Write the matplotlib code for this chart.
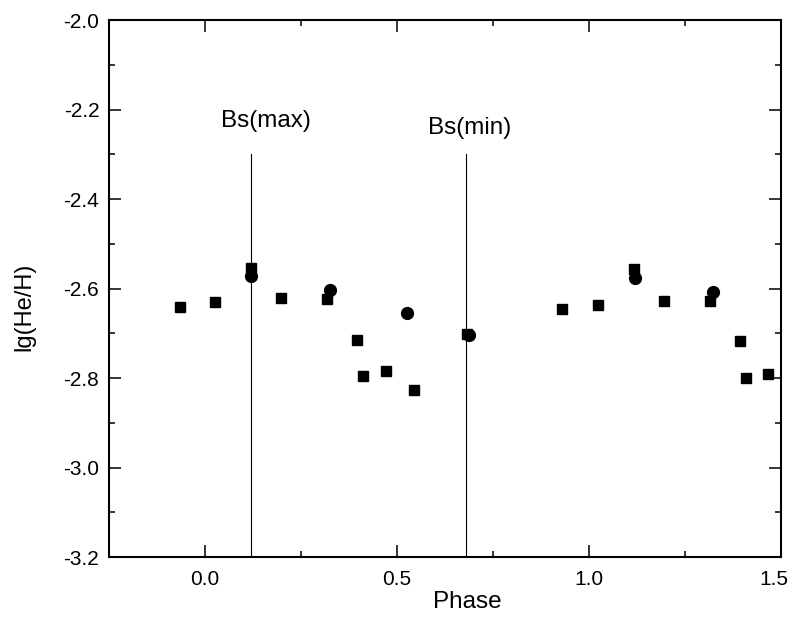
import matplotlib
matplotlib.use("Agg")
import matplotlib.pyplot as plt
from matplotlib.ticker import MultipleLocator
from matplotlib.transforms import ScaledTranslation

plt.rcParams['font.family'] = ['Liberation Sans', 'DejaVu Sans']

# Data
sq_phase = [-0.066, 0.027, 0.120, 0.197, 0.317, 0.395, 0.412, 0.472, 0.544, 0.681,
            0.929, 1.024, 1.118, 1.196, 1.314, 1.392, 1.408, 1.467]
sq_lg = [-2.641, -2.631, -2.553, -2.622, -2.624, -2.714, -2.795, -2.785, -2.826, -2.702,
         -2.646, -2.637, -2.557, -2.628, -2.628, -2.718, -2.800, -2.790]
ci_phase = [0.121, 0.326, 0.527, 0.688, 1.119, 1.323]
ci_lg = [-2.572, -2.603, -2.655, -2.703, -2.576, -2.607]
vline_phase = [0.12, 0.68]
vline_top = -2.30
vline_labels = ["Bs(max)", "Bs(min)"]
label_x = [0.158, 0.689]
label_y = [-2.226, -2.241]

fig = plt.figure(figsize=(7.93, 6.17), dpi=100)
ax = fig.add_axes([0.1375, 0.0972, 0.8474, 0.8703])

for xv in vline_phase:
    ax.plot([xv, xv], [-3.2, vline_top], color='black', lw=0.8, zorder=1)
for t, lx, ly in zip(vline_labels, label_x, label_y):
    ax.text(lx, ly, t, fontsize=17.5, ha='center', va='center')

ax.plot(sq_phase, sq_lg, linestyle='none', marker='s', markersize=7.5,
        color='black', zorder=3)
ax.plot(ci_phase, ci_lg, linestyle='none', marker='o', markersize=8.5,
        color='black', zorder=3)

ax.set_xlim(-0.25, 1.5)
ax.set_ylim(-3.2, -2.0)
ax.xaxis.set_major_locator(MultipleLocator(0.5))
ax.xaxis.set_minor_locator(MultipleLocator(0.25))
ax.yaxis.set_major_locator(MultipleLocator(0.2))
ax.yaxis.set_minor_locator(MultipleLocator(0.1))
ax.xaxis.set_major_formatter(matplotlib.ticker.FormatStrFormatter('%.1f'))
ax.yaxis.set_major_formatter(matplotlib.ticker.FormatStrFormatter('%.1f'))

ax.tick_params(which='both', direction='in', top=True, right=True, width=1.1)
ax.tick_params(which='major', length=8.5, labelsize=15)
ax.tick_params(which='minor', length=4.5)
ax.tick_params(axis='x', which='major', pad=9)
ax.tick_params(axis='y', which='major', pad=7)
for sp in ax.spines.values():
    sp.set_linewidth(1.5)

ax.set_xlabel('Phase', fontsize=17.5)
ax.xaxis.set_label_coords(0.533, -0.084)
ax.xaxis.label.set_va('center')
ax.set_ylabel('lg(He/H)', fontsize=17)
ax.yaxis.set_label_coords(-0.1265, 0.466)
ax.yaxis.label.set_va('center')

# keep the rightmost tick label inside the canvas
fig.canvas.draw()
for tick in ax.xaxis.get_major_ticks():
    if abs(tick.get_loc() - 1.5) < 1e-9:
        lab = tick.label1
        lab.set_transform(lab.get_transform() + ScaledTranslation(-5 / 72, 0, fig.dpi_scale_trans))

fig.savefig('out.png', dpi=100)
